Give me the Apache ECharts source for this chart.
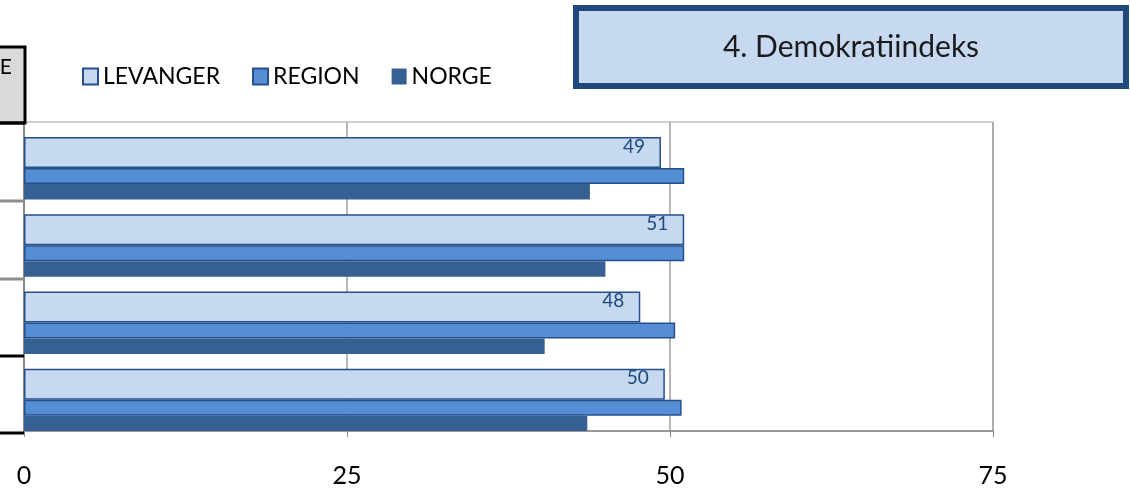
<!DOCTYPE html>
<html lang="no">
<head>
  <meta charset="UTF-8">
  <title>4. Demokratiindeks</title>
  <script src="https://cdn.jsdelivr.net/npm/echarts@6/dist/echarts.min.js"></script>
  <style>
    html, body { margin: 0; padding: 0; background: #fff; }
  </style>
</head>
<body>
<div id="main" style="width: 1130px;height:488px;"></div>
<script type="text/javascript">

// data (top group first)
var categories = ['1', '2', '3', '4'];
var levanger = [49.3, 51.1, 47.7, 49.6];
var region = [51.1, 51.1, 50.4, 50.9];
var norge = [43.8, 45.0, 40.3, 43.6];
var xTicks = [0, 25, 50, 75];

var font = 'Lato';
var myChart = echarts.init(document.getElementById('main'));

var option = {
  animation: false,
  textStyle: { fontFamily: font },
  legend: {
    data: ['LEVANGER', 'REGION', 'NORGE'],
    left: 82,
    top: 65,
    padding: 0,
    itemWidth: 15,
    itemHeight: 16,
    itemGap: 32,
    icon: 'rect',
    textStyle: { fontFamily: font, fontSize: 23, color: '#000' }
  },
  grid: {
    left: 24,
    right: 137,
    top: 122,
    bottom: 56,
    show: true,
    borderColor: '#a0a0a0',
    borderWidth: 1
  },
  xAxis: {
    type: 'value',
    min: xTicks[0],
    max: xTicks[xTicks.length - 1],
    interval: 25,
    axisLine: { show: true, lineStyle: { color: '#8a8a8a', width: 1.5 } },
    axisTick: { show: true, length: 6, lineStyle: { color: '#8a8a8a' } },
    axisLabel: { margin: 32, fontFamily: font, fontSize: 25, color: '#000' },
    splitLine: { show: true, lineStyle: { color: '#a0a0a0', width: 1.5 } }
  },
  yAxis: {
    type: 'category',
    inverse: true,
    data: categories,
    axisLine: { show: true, lineStyle: { color: '#8a8a8a', width: 2 } },
    axisTick: { show: false },
    axisLabel: { show: false },
    splitLine: { show: false }
  },
  series: [
    { // empty spacer, keeps the top gap inside each group
      name: 'spacer',
      type: 'bar',
      barWidth: 15,
      barGap: 0,
      data: []
    },
    {
      name: 'LEVANGER',
      type: 'bar',
      barWidth: 31,
      barGap: 0,
      data: levanger,
      itemStyle: { color: '#c6d9f1', borderColor: '#25508a', borderWidth: 1.5 },
      label: {
        show: true,
        position: 'insideRight',
        distance: 16,
        offset: [0, -6],
        formatter: function (p) { return Math.round(p.value); },
        fontFamily: font,
        fontSize: 19,
        color: '#1f497d'
      }
    },
    {
      name: 'REGION',
      type: 'bar',
      barWidth: 16,
      barGap: 0,
      data: region,
      itemStyle: { color: '#558ed5', borderColor: '#25508a', borderWidth: 1.5 }
    },
    {
      name: 'NORGE',
      type: 'bar',
      barWidth: 15.5,
      barGap: 0,
      data: norge,
      itemStyle: { color: '#376092' }
    }
  ],
  graphic: [
    // title box
    {
      type: 'rect',
      shape: { x: 576, y: 8, width: 550, height: 78 },
      style: { fill: '#c6d9f1', stroke: '#1f497d', lineWidth: 6 },
      z: 10
    },
    {
      type: 'text',
      x: 851,
      y: 47,
      style: {
        text: '4. Demokratiindeks',
        fontFamily: font,
        fontSize: 30,
        fill: '#1a1a1a',
        align: 'center',
        verticalAlign: 'middle'
      },
      z: 11
    },
    // cut-off table on the left
    {
      type: 'rect',
      shape: { x: -4, y: 47, width: 29, height: 76 },
      style: { fill: '#d9d9d9', stroke: '#000', lineWidth: 3 },
      z: 10
    },
    {
      type: 'text',
      x: 12,
      y: 67,
      style: { text: 'E', fontFamily: font, fontSize: 21, fill: '#000', align: 'right', verticalAlign: 'middle' },
      z: 11
    },
    { type: 'line', shape: { x1: 0, y1: 123, x2: 24, y2: 123 }, style: { stroke: '#000', lineWidth: 3 }, z: 10 },
    { type: 'line', shape: { x1: 0, y1: 201, x2: 24, y2: 201 }, style: { stroke: '#8c8c8c', lineWidth: 3 }, z: 10 },
    { type: 'line', shape: { x1: 0, y1: 279, x2: 24, y2: 279 }, style: { stroke: '#8c8c8c', lineWidth: 3 }, z: 10 },
    { type: 'line', shape: { x1: 0, y1: 356, x2: 24, y2: 356 }, style: { stroke: '#000', lineWidth: 3 }, z: 10 },
    { type: 'line', shape: { x1: 0, y1: 433, x2: 24, y2: 433 }, style: { stroke: '#000', lineWidth: 3 }, z: 10 }
  ]
};

myChart.setOption(option);

</script>
</body>
</html>
